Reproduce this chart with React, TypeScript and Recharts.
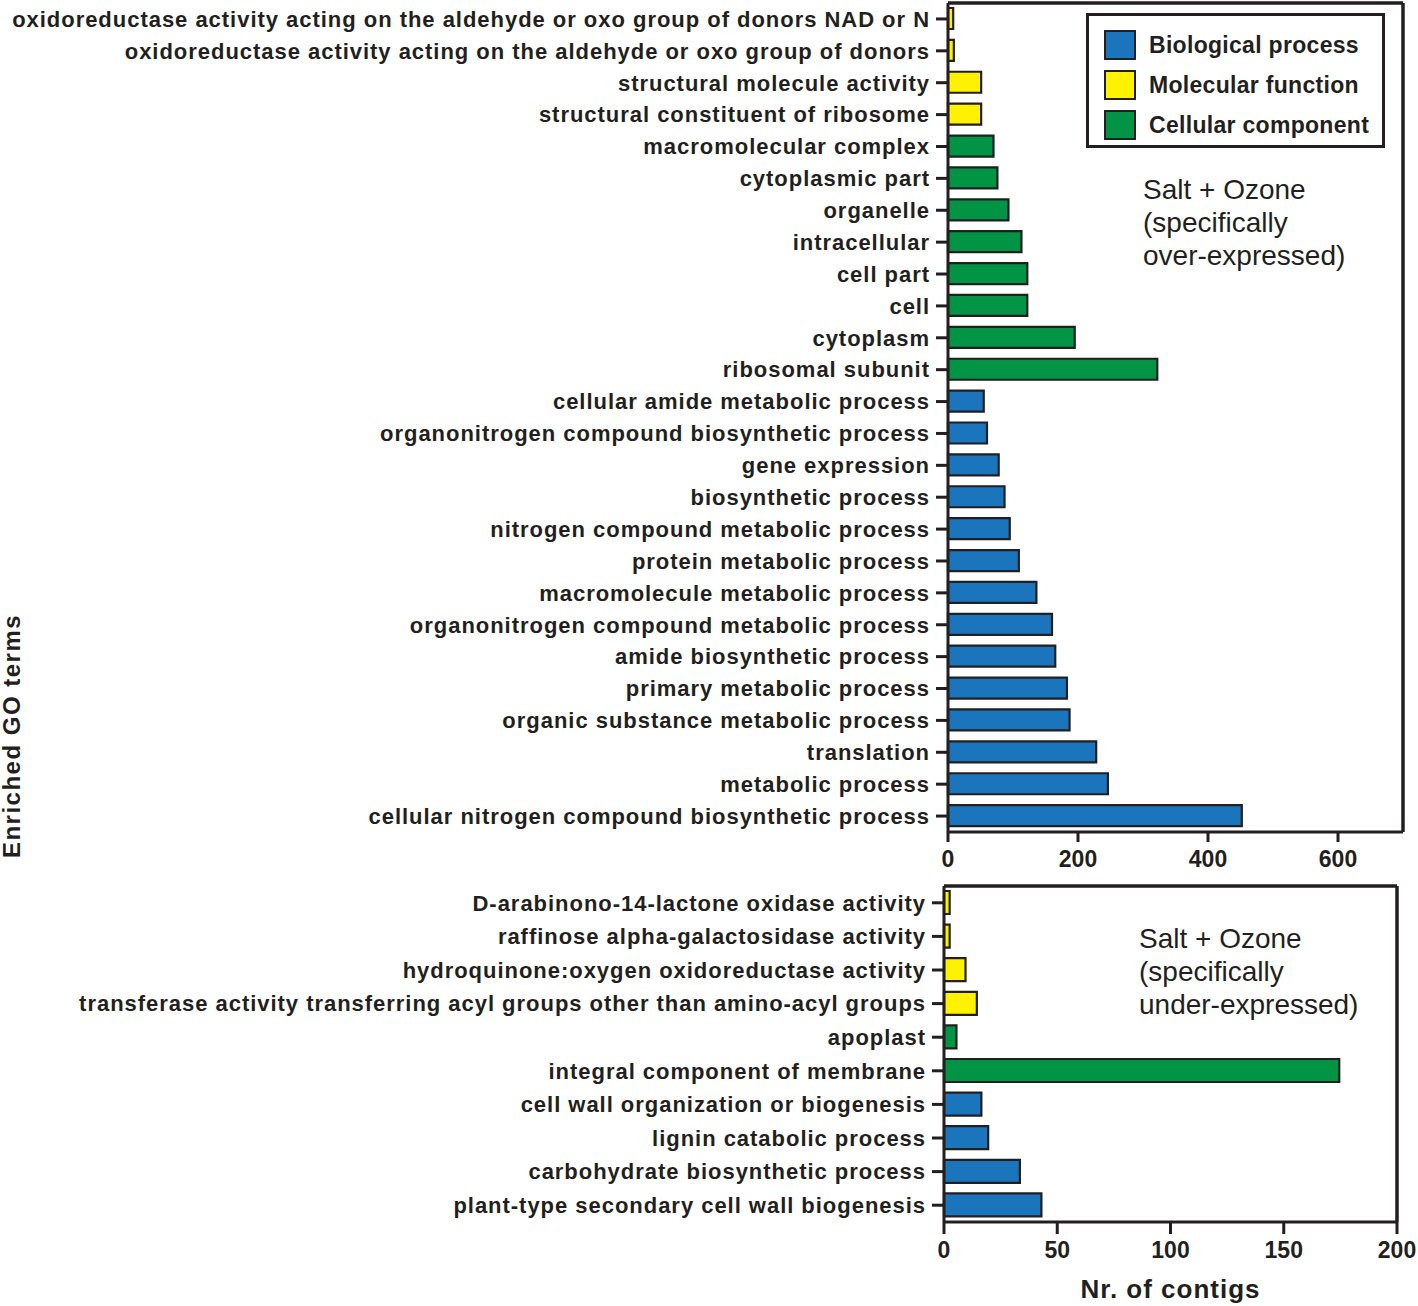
import { BarChart, Bar, XAxis, YAxis, Cell, CartesianGrid } from "recharts"

// Salt + Ozone, specifically over-expressed (top to bottom)
const overTerms = [
  "oxidoreductase activity acting on the aldehyde or oxo group of donors NAD or N",
  "oxidoreductase activity acting on the aldehyde or oxo group of donors",
  "structural molecule activity",
  "structural constituent of ribosome",
  "macromolecular complex",
  "cytoplasmic part",
  "organelle",
  "intracellular",
  "cell part",
  "cell",
  "cytoplasm",
  "ribosomal subunit",
  "cellular amide metabolic process",
  "organonitrogen compound biosynthetic process",
  "gene expression",
  "biosynthetic process",
  "nitrogen compound metabolic process",
  "protein metabolic process",
  "macromolecule metabolic process",
  "organonitrogen compound metabolic process",
  "amide biosynthetic process",
  "primary metabolic process",
  "organic substance metabolic process",
  "translation",
  "metabolic process",
  "cellular nitrogen compound biosynthetic process",
]
const overValues = [8, 9, 51, 51, 70, 76, 93, 113, 122, 122, 195, 322, 55, 60, 78, 87, 95, 109, 136, 160, 165, 183, 187, 228, 246, 452]
const overGroups = [
  "mf", "mf", "mf", "mf",
  "cc", "cc", "cc", "cc", "cc", "cc", "cc", "cc",
  "bp", "bp", "bp", "bp", "bp", "bp", "bp", "bp", "bp", "bp", "bp", "bp", "bp", "bp",
]

// Salt + Ozone, specifically under-expressed (top to bottom)
const underTerms = [
  "D-arabinono-14-lactone oxidase activity",
  "raffinose alpha-galactosidase activity",
  "hydroquinone:oxygen oxidoreductase activity",
  "transferase activity transferring acyl groups other than amino-acyl groups",
  "apoplast",
  "integral component of membrane",
  "cell wall organization or biogenesis",
  "lignin catabolic process",
  "carbohydrate biosynthetic process",
  "plant-type secondary cell wall biogenesis",
]
const underValues = [2.5, 2.5, 9.5, 14.5, 5.5, 174.5, 16.5, 19.5, 33.5, 43]
const underGroups = ["mf", "mf", "mf", "mf", "cc", "cc", "bp", "bp", "bp", "bp"]

const overTicks = [0, 200, 400, 600]
const underTicks = [0, 50, 100, 150, 200]

const groupNames = ["Biological process", "Molecular function", "Cellular component"]
const groupKeys = ["bp", "mf", "cc"]

const groupColors: Record<string, string> = {
  bp: "#1b75bc",
  mf: "#fff200",
  cc: "#009444",
}

const ink = "#231f20"
const font = "'Liberation Sans', Arial, Helvetica, sans-serif"

const overData = overTerms.map((name, i) => ({ name, value: overValues[i], group: overGroups[i] }))
const underData = underTerms.map((name, i) => ({ name, value: underValues[i], group: underGroups[i] }))

const catTick = { fill: ink, fontSize: 22, fontWeight: 700, fontFamily: font, letterSpacing: 0.97 }
const numTick = { fill: ink, fontSize: 23, fontWeight: 700, fontFamily: font }
const frameLine = { stroke: ink, strokeWidth: 3 }
const tickLine = { stroke: ink, strokeWidth: 3 }

// top and right edges of the plot frame
const rightEdge = ({ offset }: any) => [offset.left + offset.width]
const topEdge = ({ offset }: any) => [offset.top]

function GoLegend() {
  return (
    <div
      style={{
        position: "absolute",
        left: 1086,
        top: 13,
        border: `3px solid ${ink}`,
        width: 293,
        height: 129,
        background: "#fff",
        fontFamily: font,
      }}
    >
      {groupKeys.map((k, i) => (
        <div key={k} style={{ display: "flex", alignItems: "center", height: 40, marginTop: i === 0 ? 9 : 0 }}>
          <div
            style={{
              width: 28,
              height: 26,
              marginLeft: 15,
              marginRight: 13,
              background: groupColors[k],
              border: `2px solid ${ink}`,
            }}
          />
          <span style={{ fontSize: 23, fontWeight: 700, color: ink, letterSpacing: 0.3 }}>{groupNames[i]}</span>
        </div>
      ))}
    </div>
  )
}

function Note({ lines, left, top }: { lines: string[]; left: number; top: number }) {
  return (
    <div
      style={{
        position: "absolute",
        left,
        top,
        fontFamily: font,
        fontSize: 28,
        lineHeight: "33px",
        color: ink,
        whiteSpace: "pre",
      }}
    >
      {lines.join("\n")}
    </div>
  )
}

export default function App() {
  return (
    <div style={{ position: "absolute", left: 0, top: 0, width: 1418, height: 1306, background: "#fff" }}>
      <div style={{ position: "absolute", left: 0, top: 0 }}>
        <BarChart
          width={1418}
          height={872}
          data={overData}
          layout="vertical"
          margin={{ top: 3, right: 15, left: 0, bottom: 0 }}
        >
          <CartesianGrid
            stroke={ink}
            strokeWidth={3.5}
            verticalCoordinatesGenerator={rightEdge}
            horizontalCoordinatesGenerator={topEdge}
          />
          <XAxis
            type="number"
            domain={[0, 700]}
            ticks={overTicks}
            height={40}
            tick={numTick}
            tickSize={10}
            tickMargin={9}
            axisLine={frameLine}
            tickLine={tickLine}
          />
          <YAxis
            type="category"
            dataKey="name"
            width={948}
            interval={0}
            tick={catTick}
            tickSize={12}
            tickMargin={6}
            axisLine={frameLine}
            tickLine={tickLine}
          />
          <Bar dataKey="value" barSize={21} stroke={ink} strokeWidth={2.2} isAnimationActive={false}>
            {overData.map((d, i) => (
              <Cell key={`over-${i}`} fill={groupColors[d.group]} />
            ))}
          </Bar>
        </BarChart>
      </div>

      <div style={{ position: "absolute", left: 0, top: 870 }}>
        <BarChart
          width={1418}
          height={436}
          data={underData}
          layout="vertical"
          margin={{ top: 16, right: 21, left: 0, bottom: 0 }}
        >
          <CartesianGrid
            stroke={ink}
            strokeWidth={3.5}
            verticalCoordinatesGenerator={rightEdge}
            horizontalCoordinatesGenerator={topEdge}
          />
          <XAxis
            type="number"
            domain={[0, 200]}
            ticks={underTicks}
            height={84}
            tick={numTick}
            tickSize={12}
            tickMargin={8}
            axisLine={frameLine}
            tickLine={tickLine}
            label={{
              value: "Nr. of contigs",
              position: "insideBottom",
              offset: 8,
              fill: ink,
              fontSize: 26,
              fontWeight: 700,
              fontFamily: font,
              letterSpacing: 1,
            }}
          />
          <YAxis
            type="category"
            dataKey="name"
            width={944}
            interval={0}
            tick={catTick}
            tickSize={12}
            tickMargin={6}
            axisLine={frameLine}
            tickLine={tickLine}
          />
          <Bar dataKey="value" barSize={23} stroke={ink} strokeWidth={2.2} isAnimationActive={false}>
            {underData.map((d, i) => (
              <Cell key={`under-${i}`} fill={groupColors[d.group]} />
            ))}
          </Bar>
        </BarChart>
      </div>

      <GoLegend />
      <Note lines={["Salt + Ozone", "(specifically", "over-expressed)"]} left={1143} top={173} />
      <Note lines={["Salt + Ozone", "(specifically", "under-expressed)"]} left={1139} top={922} />

      <div
        style={{
          position: "absolute",
          left: 12,
          top: 736,
          transform: "translate(-50%, -50%) rotate(-90deg)",
          fontFamily: font,
          fontSize: 24,
          fontWeight: 700,
          letterSpacing: 1.5,
          color: ink,
          whiteSpace: "nowrap",
        }}
      >
        Enriched GO terms
      </div>
    </div>
  )
}
